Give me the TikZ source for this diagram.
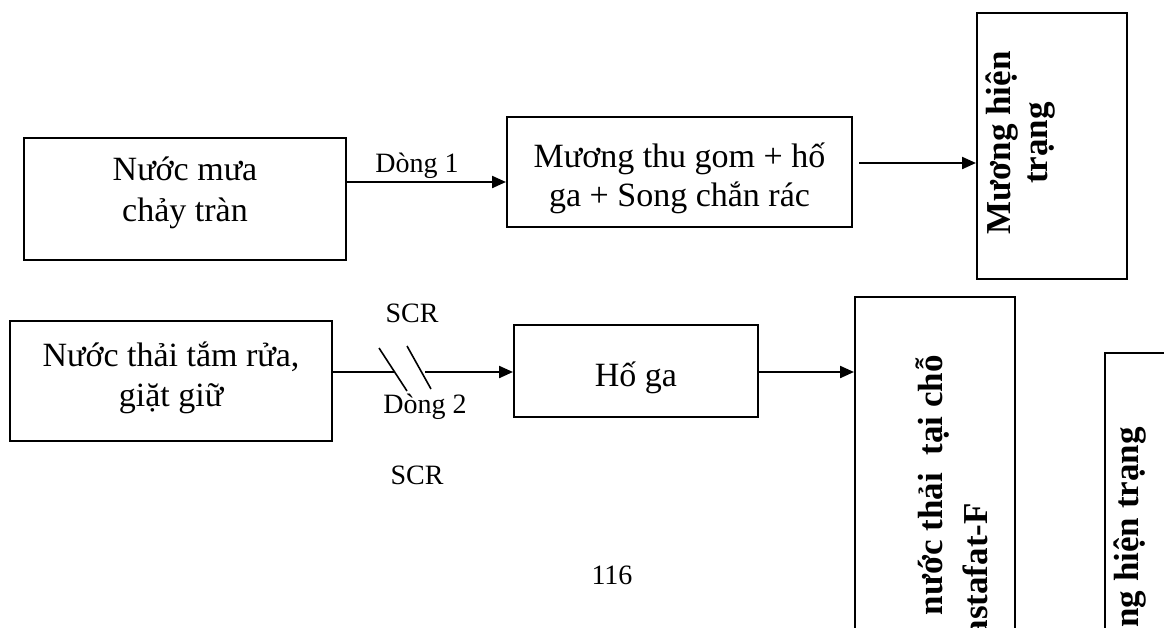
\documentclass[tikz,border=0pt]{standalone}
\usepackage{fontspec}
\setmainfont{Liberation Serif}
\usetikzlibrary{arrows.meta}
\begin{document}
\begin{tikzpicture}[x=1pt,y=-1pt,
  box/.style={draw,line width=2pt,rectangle,inner sep=0pt},
  txt/.style={align=center,inner sep=0pt,font=\fontsize{34}{39}\selectfont},
  lbl/.style={inner sep=0pt,font=\fontsize{28}{32}\selectfont},
  vtxt/.style={rotate=90,inner sep=0pt,align=center,font=\fontsize{35}{37}\selectfont\bfseries},
  conn/.style={line width=2.2pt},
  arr/.style={line width=2.2pt,-{Triangle[length=14pt,width=12pt]}}]
\useasboundingbox (0,0) rectangle (1164,627);
% boxes
\node[box,minimum width=322,minimum height=122] (A) at (185,199) {};
\node[box,minimum width=345,minimum height=110] (B) at (679.5,172) {};
\node[box,minimum width=150,minimum height=266] (C) at (1052,146) {};
\node[box,minimum width=322,minimum height=120] (D) at (171,381) {};
\node[box,minimum width=244,minimum height=92] (E) at (636,371) {};
\node[box,minimum width=160,minimum height=363] (F) at (935,478.5) {};
\node[box,minimum width=90,minimum height=307] (G) at (1150,506.5) {};
% texts
\node[txt] (tA) at (185,193) {Nước mưa\\[2pt]chảy tràn};
\node[txt] (tB) at (679.5,178) {Mương thu gom + hố\\ga + Song chắn rác};
\node[vtxt] (tC) at (1021,143) {Mương hiện\\trạng};
\node[txt] (tD) at (171,378) {Nước thải tắm rửa,\\[1pt]giặt giữ};
\node[txt] (tE) at (636,378) {Hố ga};
\node[vtxt,anchor=east] (tF1) at (933,355) {nước thải\ \ tại chỗ};
\node[vtxt,anchor=east] (tF2) at (975,503) {astafat-F};
\node[vtxt,anchor=east] (tG) at (1130,427) {ng hiện trạng};
% labels
\node[lbl] (l1) at (417,166) {Dòng 1};
\node[lbl] (l2) at (412,313) {SCR};
\node[lbl] (l3) at (425,407) {Dòng 2};
\node[lbl] (l4) at (417,475) {SCR};
\node[lbl] (pg) at (612,575) {116};
% connectors
\coordinate (d1) at (348,182);
\draw[arr] (A.east |- d1) -- (B.west |- d1);
\coordinate (c1) at (859,163);
\draw[arr] (c1) -- (C.west |- c1);
\coordinate (s1) at (395,372);
\coordinate (s2) at (425,372);
\draw[conn] (D.east |- s1) -- (s1);
\draw[line width=1.6pt] (379,348) -- (407,391);
\draw[line width=1.6pt] (407,346) -- (431,389);
\draw[arr] (s2) -- (E.west |- s2);
\draw[arr] (E.east |- s2) -- (F.west |- s2);
\end{tikzpicture}
\end{document}
